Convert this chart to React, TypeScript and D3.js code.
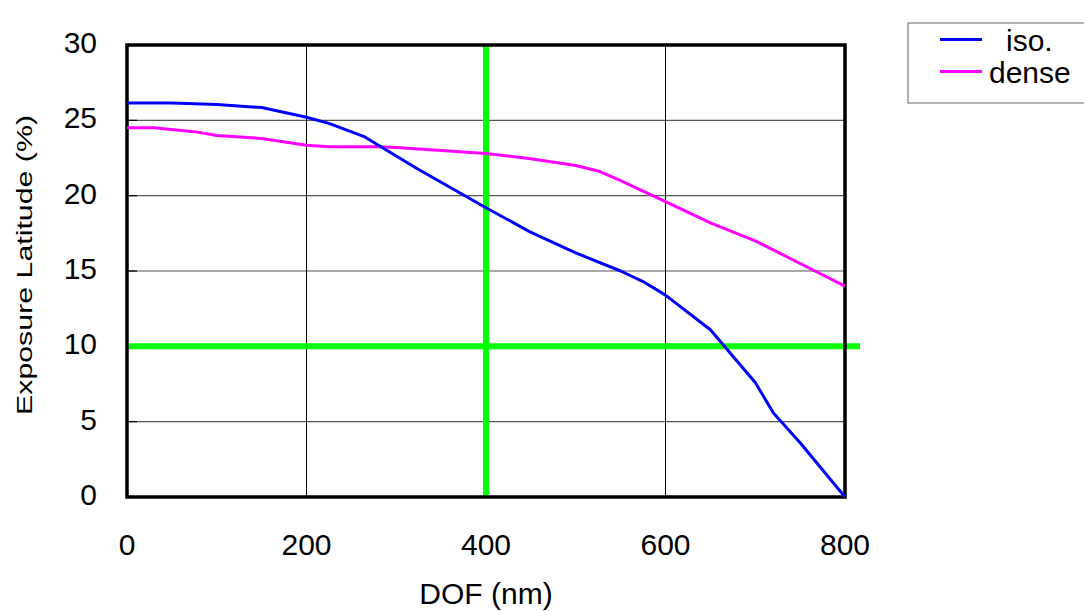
import { useEffect, useRef } from 'react';
import * as d3 from 'd3';

// DOF (nm) sample points
const isoDof = [0, 50, 100, 150, 200, 225, 265, 323, 400, 449, 500, 550, 575, 600, 650, 700, 720, 750, 800];
const isoLatitude = [26.15, 26.15, 26.05, 25.85, 25.2, 24.8, 23.9, 21.8, 19.2, 17.6, 16.2, 15.0, 14.3, 13.4, 11.1, 7.6, 5.6, 3.6, 0];

const denseDof = [0, 30, 75, 100, 150, 200, 225, 280, 300, 400, 450, 500, 527, 550, 600, 650, 700, 750, 800];
const denseLatitude = [24.5, 24.5, 24.25, 24.0, 23.8, 23.35, 23.25, 23.25, 23.2, 22.8, 22.45, 22.0, 21.6, 21.0, 19.6, 18.2, 17.0, 15.5, 14.0];

const xTicks = [0, 200, 400, 600, 800];
const yTicks = [0, 5, 10, 15, 20, 25, 30];
const targetDof = 400;
const targetLatitude = 10;

const font = 'Liberation Sans, Arial, sans-serif';

export default function App() {
  const svgRef = useRef<SVGSVGElement>(null);

  useEffect(() => {
    const width = 1084;
    const height = 611;
    const margin = { top: 45, right: 239, bottom: 114, left: 127 };
    const innerWidth = width - margin.left - margin.right;
    const innerHeight = height - margin.top - margin.bottom;

    const root = d3.select(svgRef.current);
    root.selectAll('*').remove();
    root.attr('width', width).attr('height', height);

    const svg = root.append('g').attr('transform', `translate(${margin.left},${margin.top})`);

    const x = d3.scaleLinear().domain([0, 800]).range([0, innerWidth]);
    const y = d3.scaleLinear().domain([0, 30]).range([innerHeight, 0]);

    // grid
    svg.selectAll('.hgrid')
      .data(yTicks.filter(t => t > 0 && t < 30))
      .enter()
      .append('line')
      .attr('x1', 0)
      .attr('x2', innerWidth)
      .attr('y1', d => y(d))
      .attr('y2', d => y(d))
      .attr('stroke', '#555')
      .attr('stroke-width', 1.2);

    svg.selectAll('.vgrid')
      .data(xTicks.filter(t => t > 0 && t < 800))
      .enter()
      .append('line')
      .attr('x1', d => x(d))
      .attr('x2', d => x(d))
      .attr('y1', 0)
      .attr('y2', innerHeight)
      .attr('stroke', '#000')
      .attr('stroke-width', 1);

    // inner ticks on left axis
    svg.selectAll('.ytick')
      .data(yTicks)
      .enter()
      .append('line')
      .attr('x1', 0)
      .attr('x2', 10)
      .attr('y1', d => y(d))
      .attr('y2', d => y(d))
      .attr('stroke', '#000')
      .attr('stroke-width', 1.2);

    // green reference lines
    svg.append('line')
      .attr('x1', x(targetDof))
      .attr('x2', x(targetDof))
      .attr('y1', -1)
      .attr('y2', innerHeight)
      .attr('stroke', '#00ff00')
      .attr('stroke-width', 6);

    svg.append('line')
      .attr('x1', 0)
      .attr('x2', innerWidth + 15)
      .attr('y1', y(targetLatitude))
      .attr('y2', y(targetLatitude))
      .attr('stroke', '#00ff00')
      .attr('stroke-width', 6);

    // frame
    svg.append('rect')
      .attr('x', 0)
      .attr('y', 0)
      .attr('width', innerWidth)
      .attr('height', innerHeight)
      .attr('fill', 'none')
      .attr('stroke', '#000')
      .attr('stroke-width', 3.5);

    const line = d3.line<[number, number]>()
      .x(d => x(d[0]))
      .y(d => y(d[1]));

    const series = [
      { name: 'dense', color: '#ff00ff', pts: denseDof.map((d, i) => [d, denseLatitude[i]] as [number, number]) },
      { name: 'iso.', color: '#0000ff', pts: isoDof.map((d, i) => [d, isoLatitude[i]] as [number, number]) },
    ];

    series.forEach(s => {
      svg.append('path')
        .datum(s.pts)
        .attr('fill', 'none')
        .attr('stroke', s.color)
        .attr('stroke-width', 3)
        .attr('stroke-linejoin', 'round')
        .attr('d', line);
    });

    // tick labels
    svg.selectAll('.xlabel')
      .data(xTicks)
      .enter()
      .append('text')
      .attr('x', d => x(d))
      .attr('y', innerHeight + 58)
      .attr('text-anchor', 'middle')
      .attr('font-family', font)
      .attr('font-size', 30)
      .text(d => d);

    svg.selectAll('.ylabel')
      .data(yTicks)
      .enter()
      .append('text')
      .attr('x', -30)
      .attr('y', d => y(d) + 8)
      .attr('text-anchor', 'end')
      .attr('font-family', font)
      .attr('font-size', 30)
      .text(d => d);

    // axis titles
    svg.append('text')
      .attr('x', innerWidth / 2)
      .attr('y', innerHeight + 107)
      .attr('text-anchor', 'middle')
      .attr('font-family', font)
      .attr('font-size', 30)
      .text('DOF (nm)');

    svg.append('text')
      .attr('transform', `translate(${-95},${innerHeight / 2 - 6}) rotate(-90)`)
      .attr('text-anchor', 'middle')
      .attr('font-family', font)
      .attr('font-size', 22)
      .attr('textLength', 300)
      .attr('lengthAdjust', 'spacingAndGlyphs')
      .text('Exposure Latitude (%)');

    // legend
    const legend = root.append('g');
    legend.append('rect')
      .attr('x', 908)
      .attr('y', 23)
      .attr('width', 190)
      .attr('height', 80)
      .attr('fill', '#fff')
      .attr('stroke', '#666')
      .attr('stroke-width', 1);

    const legendItems = [
      { name: 'iso.', color: '#0000ff', textX: 1006 },
      { name: 'dense', color: '#ff00ff', textX: 989 },
    ];
    legendItems.forEach((s, i) => {
      const ly = 39.5 + i * 32;
      legend.append('line')
        .attr('x1', 940)
        .attr('x2', 982)
        .attr('y1', ly)
        .attr('y2', ly)
        .attr('stroke', s.color)
        .attr('stroke-width', 3);
      legend.append('text')
        .attr('x', s.textX)
        .attr('y', ly + 11.5)
        .attr('font-family', font)
        .attr('font-size', 30)
        .text(s.name);
    });
  }, []);

  return <svg ref={svgRef} style={{ position: 'absolute', left: 0, top: 0 }}></svg>;
}
